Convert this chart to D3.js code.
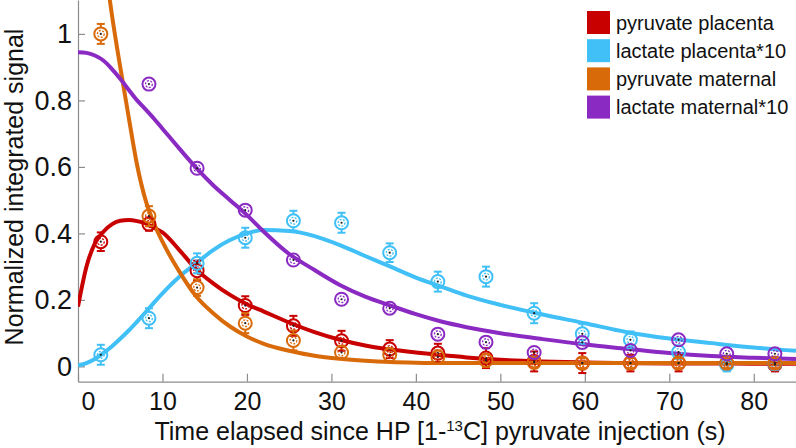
<!DOCTYPE html>
<html>
<head>
<meta charset="utf-8">
<script src="https://cdn.jsdelivr.net/npm/d3@7"></script>
<style>
  html, body { margin: 0; padding: 0; background: #fff; }
  svg { display: block; font-family: "Liberation Sans", Arial, sans-serif; }
</style>
</head>
<body>
<svg id="chart" width="796" height="448"></svg>
<script>
// ---------------- data ----------------
const seriesNames = ["pyruvate placenta", "lactate placenta*10", "pyruvate maternal", "lactate maternal*10"];
const seriesColors = ["#c80000", "#40c0f6", "#d96a0a", "#8a2ac2"];

const times = [2.7, 8.4, 14.1, 19.8, 25.5, 31.2, 36.9, 42.6, 48.3, 54.0, 59.7, 65.4, 71.1, 76.8, 82.5];

const pyruvatePlacenta = [0.375, 0.428, 0.288, 0.183, 0.122, 0.077, 0.052, 0.040, 0.025, 0.015, 0.010, 0.010, 0.010, 0.008, 0.005];
const pyruvatePlacentaErr = [0.028, 0.020, 0.030, 0.028, 0.030, 0.030, 0.027, 0.028, 0.030, 0.030, 0.030, 0.025, 0.025, 0.020, 0.020];

const lactatePlacenta = [0.035, 0.145, 0.310, 0.387, 0.438, 0.432, 0.342, 0.255, 0.270, 0.160, 0.098, 0.080, 0.043, 0.005, 0.008];
const lactatePlacentaErr = [0.030, 0.030, 0.030, 0.030, 0.030, 0.030, 0.028, 0.030, 0.030, 0.030, 0.030, 0.025, 0.020, 0.020, 0.018];

const pyruvateMaternal = [1.000, 0.452, 0.237, 0.130, 0.078, 0.042, 0.035, 0.028, 0.018, 0.012, 0.010, 0.010, 0.010, 0.010, 0.010];
const pyruvateMaternalErr = [0.030, 0.030, 0.025, 0.030, 0.030, 0.020, 0.020, 0.020, 0.020, 0.015, 0.015, 0.015, 0.015, 0.015, 0.015];

const lactateMaternal = [null, 0.849, 0.596, 0.470, 0.320, 0.202, 0.175, 0.097, 0.073, 0.042, 0.072, 0.048, 0.080, 0.038, 0.038];
const lactateMaternalErr = [0, 0, 0, 0, 0, 0, 0, 0, 0, 0, 0, 0, 0, 0, 0];

// fitted curves
const fitTimes = [0, 1, 2, 3, 4, 5, 6, 7, 8, 9, 10, 12, 14, 16, 18, 20, 22, 25, 28, 31, 34, 37, 40, 43, 46, 50, 55, 60, 65, 70, 75, 80, 85];
const fitPyruvatePlacenta = [0.18, 0.30, 0.37, 0.405, 0.427, 0.438, 0.44, 0.437, 0.43, 0.417, 0.403, 0.35, 0.292, 0.25, 0.215, 0.187, 0.165, 0.132, 0.103, 0.08, 0.063, 0.051, 0.042, 0.034, 0.027, 0.02, 0.015, 0.012, 0.01, 0.009, 0.009, 0.008, 0.008];
const fitLactatePlacenta = [0.003, 0.01, 0.022, 0.04, 0.06, 0.083, 0.108, 0.135, 0.163, 0.192, 0.22, 0.27, 0.31, 0.35, 0.38, 0.40, 0.41, 0.407, 0.392, 0.365, 0.332, 0.30, 0.267, 0.24, 0.213, 0.185, 0.156, 0.13, 0.103, 0.084, 0.07, 0.057, 0.047];
const fitPyruvateMaternal = [null, null, null, 1.25, 1.06, 0.90, 0.75, 0.605, 0.50, 0.43, 0.375, 0.285, 0.21, 0.16, 0.12, 0.09, 0.068, 0.047, 0.032, 0.023, 0.017, 0.013, 0.011, 0.01, 0.01, 0.01, 0.01, 0.01, 0.01, 0.01, 0.01, 0.01, 0.01];
const fitLactateMaternal = [0.945, 0.943, 0.935, 0.92, 0.895, 0.865, 0.832, 0.80, 0.773, 0.745, 0.715, 0.655, 0.597, 0.545, 0.50, 0.455, 0.405, 0.338, 0.29, 0.245, 0.21, 0.183, 0.157, 0.135, 0.118, 0.10, 0.082, 0.066, 0.053, 0.04, 0.031, 0.026, 0.022];

const xTicks = [0, 10, 20, 30, 40, 50, 60, 70, 80];
const yTicks = [0, 0.2, 0.4, 0.6, 0.8, 1];

// ---------------- chart ----------------
const svg = d3.select("#chart");
const mLeft = 78, mRight = 796, mTop = 0, mBottom = 381.7;

const x = d3.scaleLinear().domain([0, 85]).range([mLeft, mRight]);
const y = d3.scaleLinear().domain([-0.046, 1.102]).range([mBottom, mTop]);

svg.append("defs").append("clipPath").attr("id", "plotclip")
  .append("rect").attr("x", mLeft).attr("y", mTop).attr("width", mRight - mLeft).attr("height", mBottom - mTop);

// axes
const axisColor = "#8c8c8c";
const xAxis = svg.append("g").attr("transform", `translate(0,${mBottom})`)
  .call(d3.axisBottom(x).tickValues(xTicks).tickSizeInner(-8).tickSizeOuter(0).tickPadding(11).tickFormat(d => String(d)));
const yAxis = svg.append("g").attr("transform", `translate(${mLeft},0)`)
  .call(d3.axisLeft(y).tickValues(yTicks).tickSizeInner(-7).tickSizeOuter(0).tickPadding(6).tickFormat(d => String(d)));

[xAxis, yAxis].forEach(g => {
  g.select(".domain").attr("stroke", axisColor).attr("stroke-width", 1.2);
  g.selectAll(".tick line").attr("stroke", axisColor).attr("stroke-width", 1.2);
  g.selectAll(".tick text").attr("fill", "#111").attr("font-family", "Liberation Sans, Arial, sans-serif");
});
xAxis.selectAll(".tick text").attr("font-size", 25);
xAxis.selectAll(".tick").filter(d => d === 0).select("text").attr("x", 10);
yAxis.selectAll(".tick text").attr("font-size", 27);

// axis titles
svg.append("text")
  .attr("transform", "translate(23,187) rotate(-90)")
  .attr("text-anchor", "middle")
  .attr("font-size", 25).attr("fill", "#111")
  .text("Normalized integrated signal");

const xt = svg.append("text")
  .attr("x", 440).attr("y", 440)
  .attr("text-anchor", "middle")
  .attr("font-size", 25).attr("fill", "#111");
xt.append("tspan").text("Time elapsed since HP [1-");
xt.append("tspan").attr("font-size", 15).attr("dy", -9).text("13");
xt.append("tspan").attr("dy", 9).text("C] pyruvate injection (s)");

// curves
const fits = [fitPyruvatePlacenta, fitLactatePlacenta, fitPyruvateMaternal, fitLactateMaternal];
const line = d3.line()
  .defined(d => d[1] !== null)
  .x(d => x(d[0])).y(d => y(d[1]))
  .curve(d3.curveMonotoneX);
const plot = svg.append("g").attr("clip-path", "url(#plotclip)");
fits.forEach((f, i) => {
  plot.append("path")
    .datum(fitTimes.map((t, k) => [t, f[k]]))
    .attr("fill", "none")
    .attr("stroke", seriesColors[i])
    .attr("stroke-width", 4)
    .attr("stroke-linejoin", "round")
    .attr("d", line);
});

// markers with error bars
const values = [pyruvatePlacenta, lactatePlacenta, pyruvateMaternal, lactateMaternal];
const errs = [pyruvatePlacentaErr, lactatePlacentaErr, pyruvateMaternalErr, lactateMaternalErr];
const R = 6.5, capW = 4;
values.forEach((vals, i) => {
  const c = seriesColors[i];
  const g = svg.append("g");
  vals.forEach((v, k) => {
    if (v === null) return;
    const cx = x(times[k]), cy = y(v);
    const e = errs[i][k];
    if (e > 0) {
      const yt = y(v + e), yb = y(v - e);
      if (cy - R > yt) g.append("line").attr("x1", cx).attr("x2", cx).attr("y1", yt).attr("y2", cy - R).attr("stroke", c).attr("stroke-width", 2);
      if (yb > cy + R) g.append("line").attr("x1", cx).attr("x2", cx).attr("y1", cy + R).attr("y2", yb).attr("stroke", c).attr("stroke-width", 2);
      g.append("line").attr("x1", cx - capW).attr("x2", cx + capW).attr("y1", yt).attr("y2", yt).attr("stroke", c).attr("stroke-width", 2);
      g.append("line").attr("x1", cx - capW).attr("x2", cx + capW).attr("y1", yb).attr("y2", yb).attr("stroke", c).attr("stroke-width", 2);
    }
    g.append("circle").attr("cx", cx).attr("cy", cy).attr("r", R)
      .attr("fill", "none").attr("stroke", c).attr("stroke-width", 2);
    g.append("circle").attr("cx", cx).attr("cy", cy).attr("r", 3.4)
      .attr("fill", "none").attr("stroke", c).attr("stroke-width", 1.3).attr("stroke-dasharray", "2,1.4");
    g.append("circle").attr("cx", cx).attr("cy", cy).attr("r", 1.1).attr("fill", "#222");
  });
});

// legend
const legend = svg.append("g").attr("transform", "translate(587,11)");
seriesNames.forEach((name, i) => {
  const row = legend.append("g").attr("transform", `translate(0,${i * 28.2})`);
  row.append("rect").attr("width", 23).attr("height", 23).attr("fill", seriesColors[i]);
  row.append("text").attr("x", 29).attr("y", 18.5)
    .attr("font-size", 20).attr("fill", "#111").text(name);
});
</script>
</body>
</html>
